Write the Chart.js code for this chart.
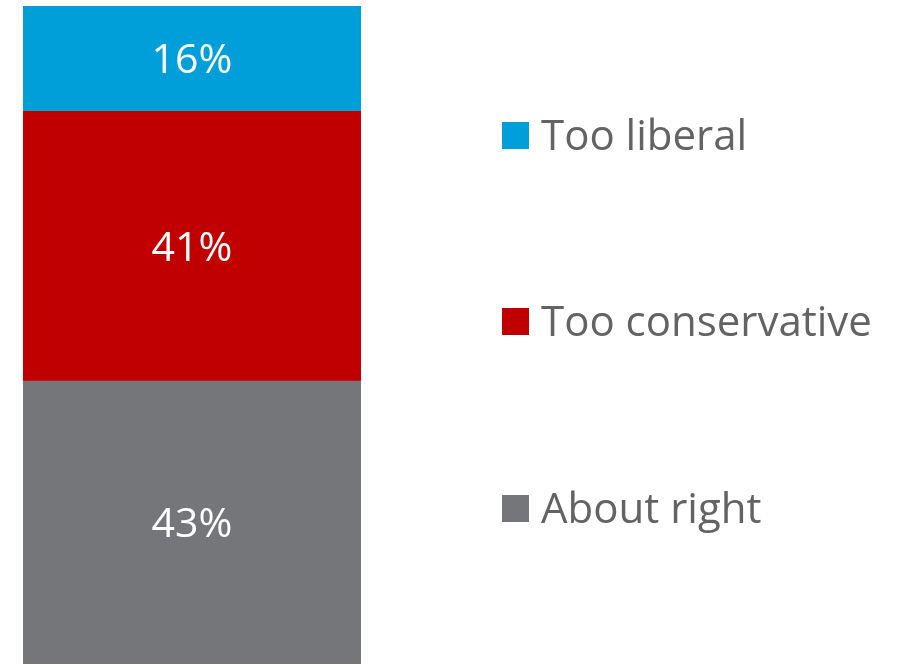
<!DOCTYPE html>
<html>
<head>
<meta charset="utf-8">
<script src="https://cdn.jsdelivr.net/npm/chart.js@4/dist/chart.umd.min.js"></script>
<style>
  html, body { margin: 0; padding: 0; background: #ffffff; }
  #wrap { width: 902px; height: 664px; }
</style>
</head>
<body>
<div id="wrap"><canvas id="c" width="902" height="664"></canvas></div>
<script>
// Data (stack order bottom -> top)
const categories = ["Total"];
const seriesNames = ["About right", "Too conservative", "Too liberal"];
const seriesValues = [43, 41, 16];
const seriesColors = ["#75767A", "#C00000", "#009FDA"];

const FONT = "'Open Sans', Lato, sans-serif";

const datasets = seriesNames.map((name, i) => ({
  label: name,
  data: [seriesValues[i]],
  backgroundColor: seriesColors[i],
  borderWidth: 0,
  barPercentage: 1,
  categoryPercentage: 1
}));

const labelPlugin = {
  id: "segLabels",
  afterDatasetsDraw(chart) {
    const ctx = chart.ctx;
    ctx.save();
    ctx.fillStyle = "#ffffff";
    ctx.font = "41px " + FONT;
    ctx.textAlign = "center";
    ctx.textBaseline = "middle";
    chart.data.datasets.forEach((ds, i) => {
      const meta = chart.getDatasetMeta(i);
      meta.data.forEach((bar, j) => {
        const p = bar.getProps(["x", "y", "base"], true);
        const cy = (p.y + p.base) / 2;
        ctx.fillText(ds.data[j] + "%", p.x, cy + 3);
      });
    });
    ctx.restore();
  }
};

const legendPlugin = {
  id: "sideLegend",
  afterDraw(chart) {
    const ctx = chart.ctx;
    ctx.save();
    ctx.font = "42px " + FONT;
    ctx.textBaseline = "alphabetic";
    ctx.textAlign = "left";
    const n = chart.data.datasets.length;
    // top item first (reverse of stack order)
    const rowsY = [135, 321, 508];
    for (let k = 0; k < n; k++) {
      const i = n - 1 - k;
      const ds = chart.data.datasets[i];
      const cy = rowsY[k];
      ctx.fillStyle = ds.backgroundColor;
      ctx.fillRect(502, cy - 13, 27, 27);
      ctx.fillStyle = "#636363";
      ctx.fillText(ds.label, 541, cy + 15);
    }
    ctx.restore();
  }
};

new Chart(document.getElementById("c"), {
  type: "bar",
  data: { labels: categories, datasets: datasets },
  options: {
    responsive: false,
    animation: false,
    layout: { padding: { left: 23, right: 541, top: 6, bottom: 0 } },
    plugins: { legend: { display: false }, tooltip: { enabled: false } },
    scales: {
      x: { stacked: true, display: false },
      y: { stacked: true, display: false, min: 0, max: 100 }
    }
  },
  plugins: [labelPlugin, legendPlugin]
});
</script>
</body>
</html>
